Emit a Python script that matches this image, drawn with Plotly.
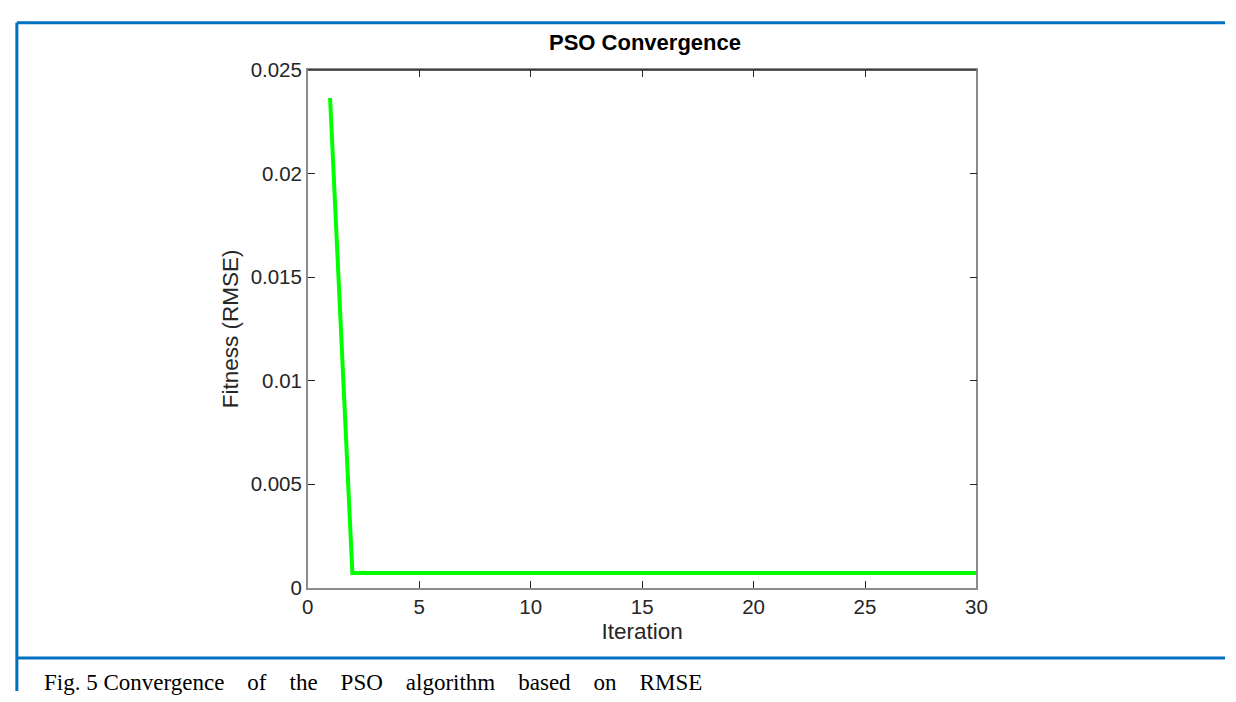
import plotly.graph_objects as go

iterations = list(range(1, 31))
fitness = [0.02365] + [0.0007] * 29

x_ticks = [0, 5, 10, 15, 20, 25, 30]
y_ticks = [0, 0.005, 0.01, 0.015, 0.02, 0.025]
y_tick_labels = ["0", "0.005", "0.01", "0.015", "0.02", "0.025"]

FW, FH = 1236, 702
x0p, x1p = 306, 984
y0p, y1p = 595, 60


def px(x):
    return x / FW


def py(y):
    return 1 - y / FH


font_fam = "Liberation Sans, Arial, Helvetica"
ink = "#262626"

fig = go.Figure()
fig.add_trace(go.Scatter(x=iterations, y=fitness, mode="lines",
                         line=dict(color="#00FF00", width=4), showlegend=False))

axis_common = dict(showgrid=False, zeroline=False, ticks="inside", ticklen=7,
                   tickcolor=ink, showline=True, linecolor="#8c8c8c",
                   linewidth=1.5, mirror="ticks",
                   tickfont=dict(family=font_fam, size=20.5, color=ink))

fig.update_layout(
    width=FW, height=FH,
    margin=dict(l=0, r=0, t=0, b=0),
    paper_bgcolor="white", plot_bgcolor="white",
    xaxis=dict(range=[0, 30], tickvals=x_ticks,
               domain=[px(x0p), px(x1p)],
               title=dict(text="Iteration", standoff=6,
                          font=dict(family=font_fam, size=22.5, color=ink)),
               **axis_common),
    yaxis=dict(range=[0, 0.025], tickvals=y_ticks, ticktext=y_tick_labels,
               domain=[py(y0p), py(y1p)],
               title=dict(text="Fitness (RMSE)", standoff=6,
                          font=dict(family=font_fam, size=22.5, color=ink)),
               **axis_common),
    title=dict(text="<b>PSO Convergence</b>", x=px((x0p + x1p) / 2), xanchor="center",
               y=py(42), yanchor="middle",
               font=dict(family=font_fam, size=22, color="#000000")),
)

blue = "#0070C0"
fig.add_shape(type="line", xref="paper", yref="paper", x0=px(11), x1=1, y0=py(11), y1=py(11),
              line=dict(color=blue, width=3))
fig.add_shape(type="line", xref="paper", yref="paper", x0=px(11), x1=px(11), y0=0, y1=py(11),
              line=dict(color=blue, width=3))
fig.add_shape(type="line", xref="paper", yref="paper", x0=px(11), x1=1, y0=py(668), y1=py(668),
              line=dict(color=blue, width=3))
fig.add_shape(type="line", xref="paper", yref="paper", x0=px(x0p), x1=px(x1p),
              y0=py(y1p), y1=py(y1p), line=dict(color=ink, width=1.5))

sp = "&nbsp;" * 4
caption = "Fig. 5 Convergence" + sp + "of" + sp + "the" + sp + "PSO" + sp + "algorithm" + sp + "based" + sp + "on" + sp + "RMSE"
fig.add_annotation(xref="paper", yref="paper", x=px(37), y=py(693), xanchor="left", yanchor="middle",
                   showarrow=False, text=caption,
                   font=dict(family="Liberation Serif, Times New Roman", size=23, color="#000000"))

fig.write_html("out.html", config={"displayModeBar": False},
               post_script="document.body.style.margin='0';document.documentElement.style.overflow='hidden';document.body.style.overflow='hidden';")
